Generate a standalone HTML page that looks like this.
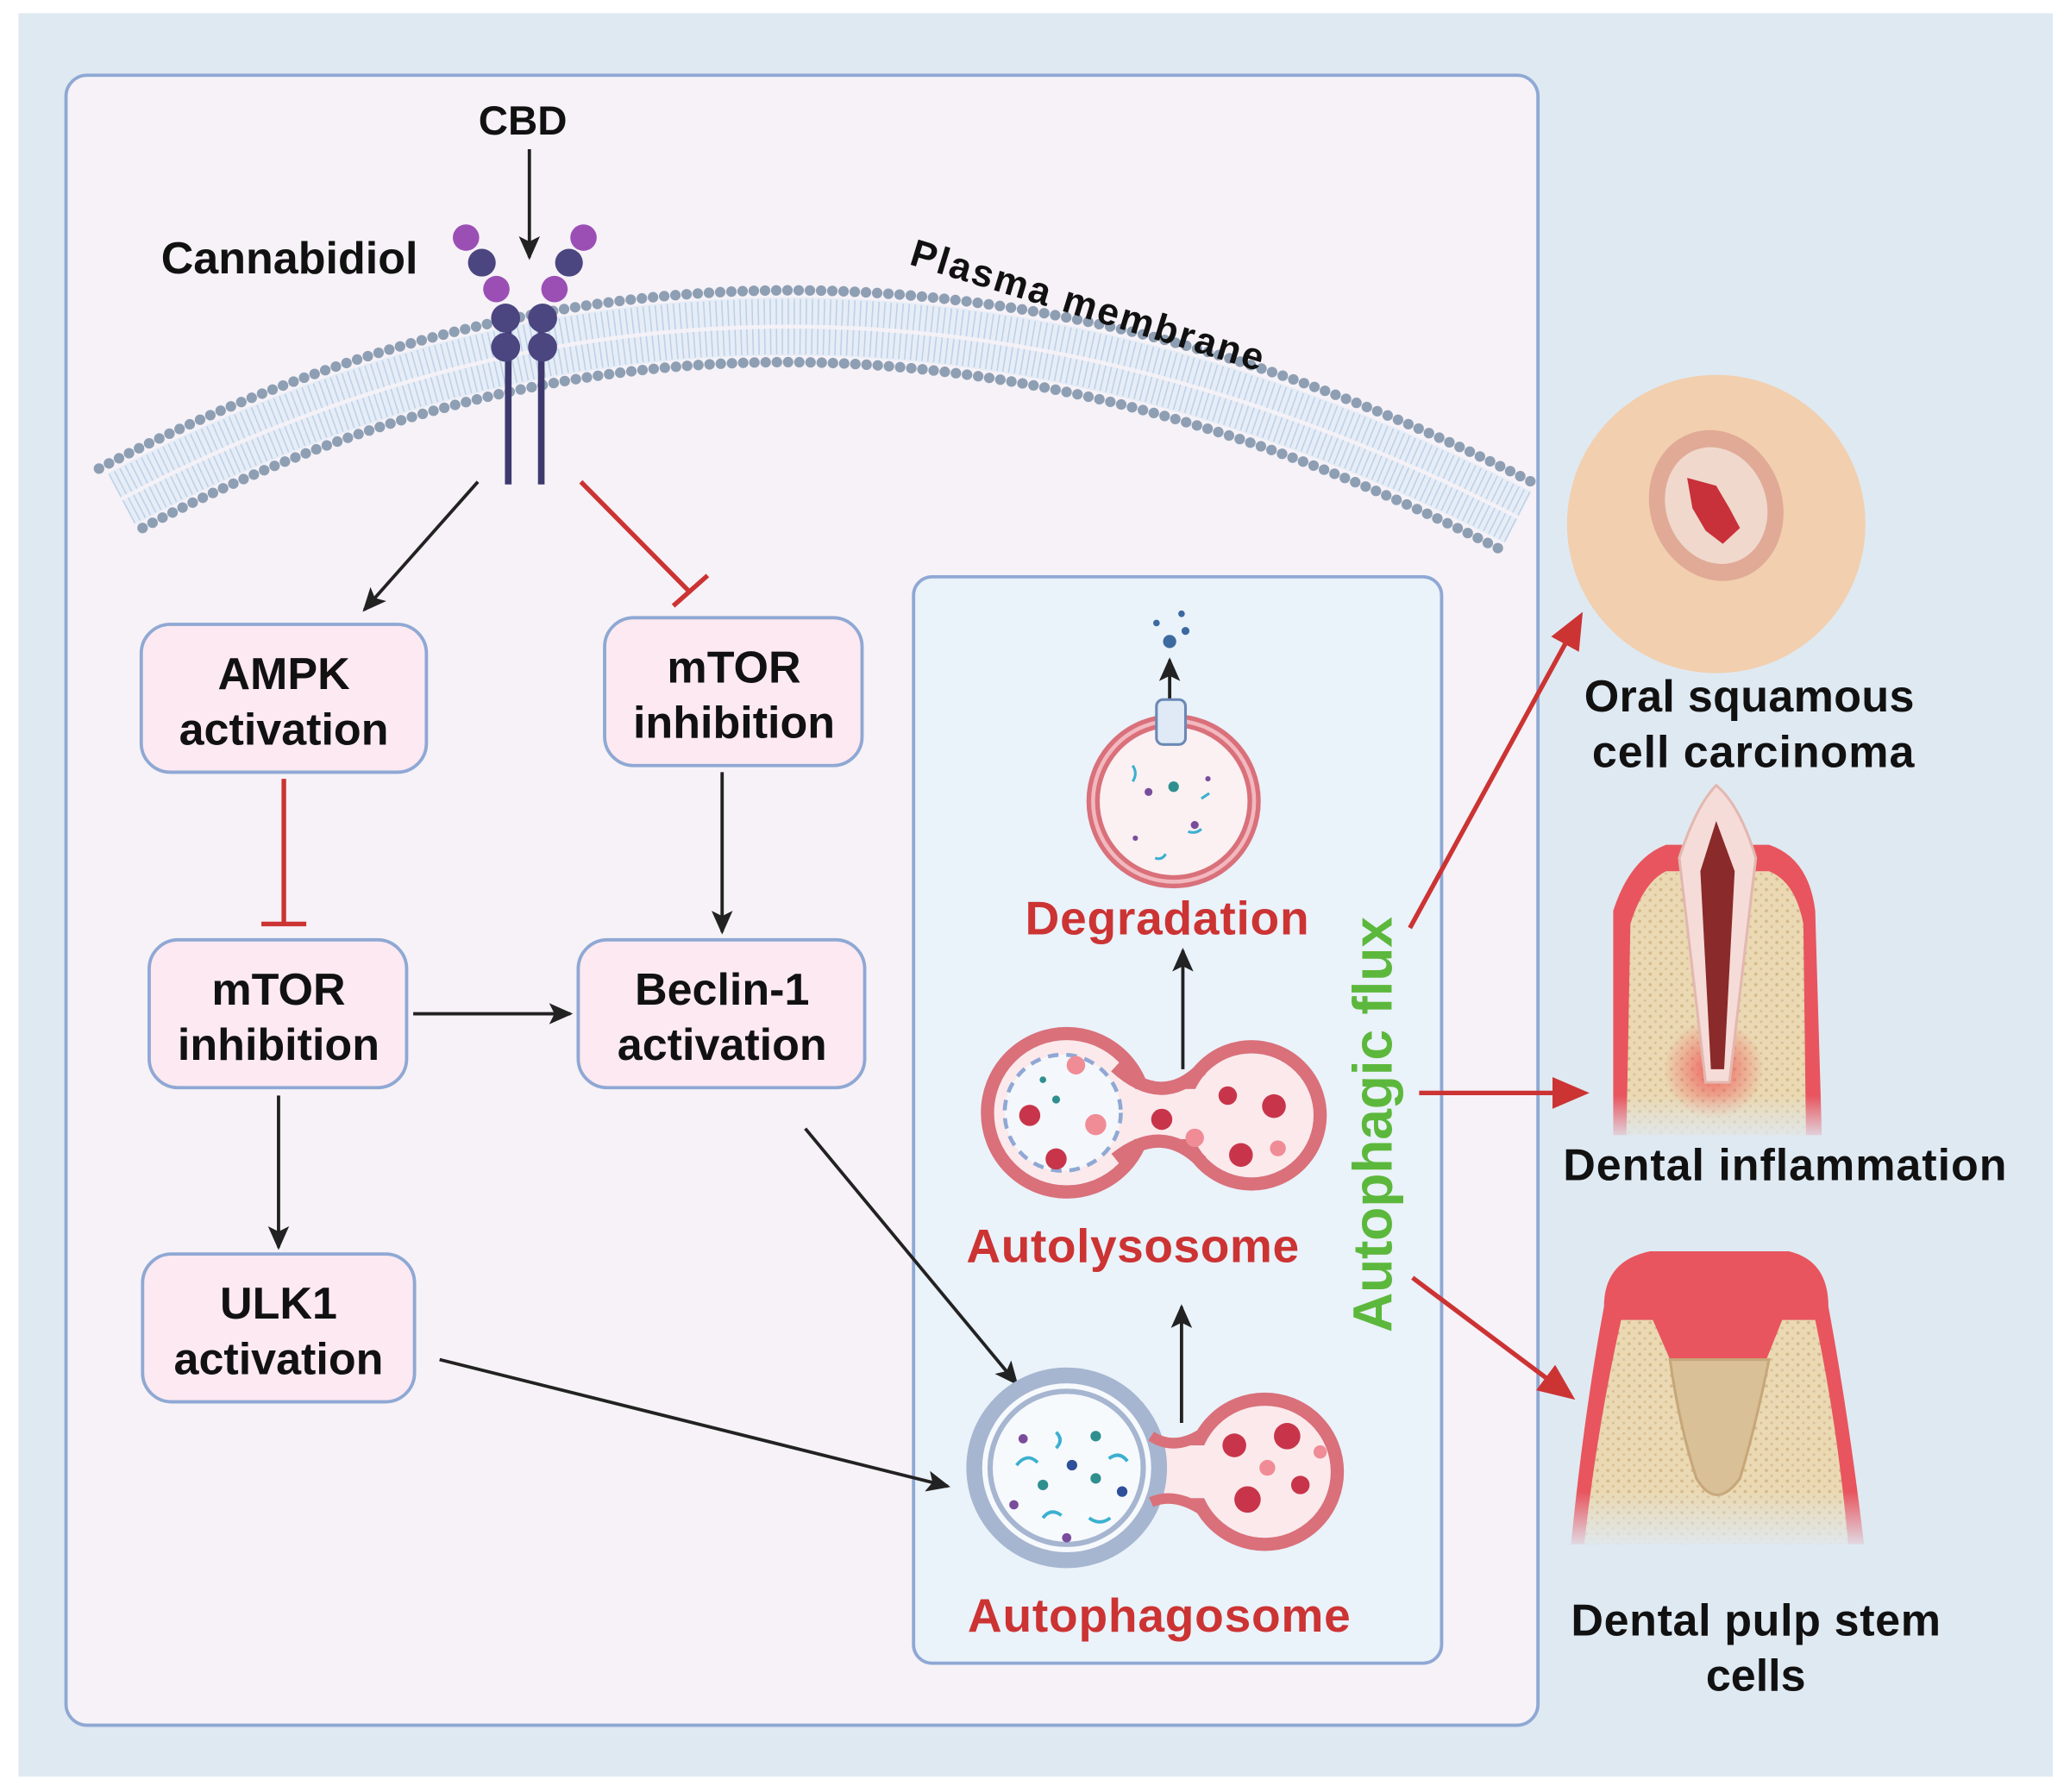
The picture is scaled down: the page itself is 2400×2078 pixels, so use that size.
<!DOCTYPE html>
<html><head><meta charset="utf-8"><style>
html,body{margin:0;padding:0;background:#fff;}
svg{display:block;}
text{font-family:"Liberation Sans",Arial,sans-serif;font-weight:bold;}
</style></head><body>
<svg width="2400" height="2078" viewBox="0 0 1568 1357.6" preserveAspectRatio="none" xmlns="http://www.w3.org/2000/svg">
<defs>
<marker id="ar" markerWidth="28" markerHeight="28" refX="24" refY="14" orient="auto" markerUnits="userSpaceOnUse" viewBox="0 0 28 28"><path d="M0,2 L28,14 L0,26 z" fill="#cc3333"/></marker>
<marker id="abk" markerWidth="18" markerHeight="18" refX="16" refY="9" orient="auto" markerUnits="userSpaceOnUse" viewBox="0 0 18 18"><path d="M0,1 L18,9 L0,17 L4,9z" fill="#222"/></marker>
<radialGradient id="inf" cx="0.5" cy="0.5" r="0.5"><stop offset="0" stop-color="#f05555" stop-opacity="0.9"/><stop offset="1" stop-color="#f05555" stop-opacity="0"/></radialGradient>
<linearGradient id="fade" x1="0" y1="0" x2="0" y2="1"><stop offset="0" stop-color="#dfe9f2" stop-opacity="0"/><stop offset="1" stop-color="#dfe9f2" stop-opacity="1"/></linearGradient>
<pattern id="bone" width="8" height="8" patternUnits="userSpaceOnUse"><rect width="8" height="8" fill="#ead9b3"/><circle cx="2" cy="2" r="1.2" fill="#d4b98a"/><circle cx="6" cy="6" r="1" fill="#d9c097"/></pattern>
</defs>
<rect x="0" y="0" width="1568" height="1358" fill="#fff"/>
<rect x="14" y="10" width="1541" height="1336" fill="#dfe9f2"/>
<rect x="50" y="57" width="1115" height="1250" rx="16" fill="#f6f2f7" stroke="#8fa8d4" stroke-width="2.5"/>
<rect x="692" y="437" width="400" height="823" rx="14" fill="#eaf2fa" stroke="#8fa8d4" stroke-width="2.5"/>

<!-- membrane -->
<path d="M92,378 Q600,110 1150,392" fill="none" stroke="#e6edf6" stroke-width="44"/>
<path d="M92,378 Q600,110 1150,392" fill="none" stroke="#a9c3e2" stroke-width="42" stroke-dasharray="1 3.5" opacity="0.7"/>
<path d="M92,378 Q600,110 1150,392" fill="none" stroke="#f6f2f7" stroke-width="3" opacity="0.9"/>
<path d="M75,355 Q600,80 1160,365" fill="none" stroke="#8e9fb4" stroke-width="8" stroke-linecap="round" stroke-dasharray="0 8.5"/>
<path d="M108,400 Q600,140 1140,418" fill="none" stroke="#8e9fb4" stroke-width="8" stroke-linecap="round" stroke-dasharray="0 8.5"/>

<!-- receptor -->
<line x1="385" y1="250" x2="385" y2="367" stroke="#3e3a6e" stroke-width="5"/>
<line x1="410" y1="250" x2="410" y2="367" stroke="#3e3a6e" stroke-width="5"/>
<circle cx="383" cy="263" r="11" fill="#4b4580"/><circle cx="411" cy="263" r="11" fill="#4b4580"/>
<circle cx="383" cy="241" r="11" fill="#4b4580"/><circle cx="411" cy="241" r="11" fill="#4b4580"/>
<circle cx="376" cy="219" r="10" fill="#9b4fb5"/><circle cx="420" cy="219" r="10" fill="#9b4fb5"/>
<circle cx="365" cy="199" r="10.5" fill="#4b4580"/><circle cx="431" cy="199" r="10.5" fill="#4b4580"/>
<circle cx="353" cy="180" r="10" fill="#9b4fb5"/><circle cx="442" cy="180" r="10" fill="#9b4fb5"/>

<text x="396" y="102" font-size="31" text-anchor="middle" fill="#111">CBD</text>
<line x1="401" y1="113" x2="401" y2="195" stroke="#222" stroke-width="2.5" marker-end="url(#abk)"/>
<text x="122" y="207" font-size="34" fill="#111">Cannabidiol</text>
<text x="0" y="0" font-size="29" fill="#111" textLength="278" transform="translate(688,200) rotate(17)">Plasma membrane</text>

<!-- boxes -->
<g fill="#fce9f1" stroke="#8fa8d4" stroke-width="2.5">
<rect x="107" y="473" width="216" height="112" rx="22"/>
<rect x="458" y="468" width="195" height="112" rx="22"/>
<rect x="113" y="712" width="195" height="112" rx="22"/>
<rect x="438" y="712" width="217" height="112" rx="22"/>
<rect x="108" y="950" width="206" height="112" rx="22"/>
</g>
<g font-size="34" text-anchor="middle" fill="#111">
<text x="215" y="522">AMPK</text><text x="215" y="564">activation</text>
<text x="556" y="517">mTOR</text><text x="556" y="559">inhibition</text>
<text x="211" y="761">mTOR</text><text x="211" y="803">inhibition</text>
<text x="547" y="761">Beclin-1</text><text x="547" y="803">activation</text>
<text x="211" y="999">ULK1</text><text x="211" y="1041">activation</text>
</g>

<!-- connectors -->
<g stroke="#222" stroke-width="2.5" fill="none">
<line x1="362" y1="365" x2="276" y2="462" marker-end="url(#abk)"/>
<line x1="547" y1="585" x2="547" y2="706" marker-end="url(#abk)"/>
<line x1="313" y1="768" x2="432" y2="768" marker-end="url(#abk)"/>
<line x1="211" y1="830" x2="211" y2="945" marker-end="url(#abk)"/>
<line x1="610" y1="855" x2="770" y2="1048" marker-end="url(#abk)"/>
<line x1="333" y1="1030" x2="718" y2="1126" marker-end="url(#abk)"/>
<line x1="895" y1="1078" x2="895" y2="990" marker-end="url(#abk)"/>
<line x1="896" y1="810" x2="896" y2="720" marker-end="url(#abk)"/>
<line x1="886" y1="568" x2="886" y2="500" marker-end="url(#abk)"/>
</g>
<g stroke="#cc3333" stroke-width="3.5" fill="none">
<line x1="440" y1="365" x2="522" y2="448"/>
<line x1="510" y1="459" x2="536" y2="436"/>
<line x1="215" y1="590" x2="215" y2="700"/>
<line x1="198" y1="700" x2="232" y2="700"/>
<line x1="1068" y1="703" x2="1197" y2="467" marker-end="url(#ar)"/>
<line x1="1075" y1="828" x2="1200" y2="828" marker-end="url(#ar)"/>
<line x1="1070" y1="968" x2="1190" y2="1058" marker-end="url(#ar)"/>
</g>

<!-- degradation lysosome -->
<circle cx="889" cy="607" r="61" fill="#fbf0f2" stroke="#d9707a" stroke-width="10"/>
<circle cx="889" cy="607" r="61" fill="none" stroke="#f2b8bf" stroke-width="3"/>
<rect x="876" y="530" width="22" height="34" rx="5" fill="#dfeaf6" stroke="#6b88b5" stroke-width="2"/>
<g fill="#7a4d9c"><circle cx="870" cy="600" r="3"/><circle cx="905" cy="625" r="3"/><circle cx="860" cy="635" r="2"/><circle cx="915" cy="590" r="2"/></g>
<circle cx="889" cy="596" r="4" fill="#2f8f8f"/>
<g stroke="#3bb0d0" stroke-width="2" fill="none"><path d="M858,580 q4,6 0,12"/><path d="M900,630 q6,2 10,-2"/><path d="M875,650 q5,2 8,-3"/><path d="M910,605 l6,-4"/></g>
<g fill="#3c6aa0"><circle cx="886" cy="486" r="5"/><circle cx="876" cy="472" r="2.5"/><circle cx="898" cy="478" r="3"/><circle cx="895" cy="465" r="2.5"/></g>

<!-- autolysosome -->
<g fill="#fbe9ec" stroke="#d9707a" stroke-width="10">
<circle cx="808" cy="843" r="60"/><circle cx="948" cy="845" r="52"/>
</g>
<rect x="840" y="825" width="80" height="38" fill="#fbe9ec"/>
<path d="M845,808 Q880,840 910,810 M845,878 Q880,850 910,880" stroke="#d9707a" stroke-width="10" fill="none"/>
<rect x="860" y="832" width="50" height="26" fill="#fbe9ec"/>
<circle cx="805" cy="843" r="44" fill="#f4f7fb" stroke="#8fa8d4" stroke-width="3" stroke-dasharray="8 6"/>
<g fill="#c8354a"><circle cx="780" cy="845" r="8"/><circle cx="800" cy="878" r="8"/><circle cx="880" cy="848" r="8"/><circle cx="965" cy="838" r="9"/><circle cx="940" cy="875" r="9"/><circle cx="930" cy="830" r="7"/></g>
<g fill="#f08c96"><circle cx="830" cy="852" r="8"/><circle cx="815" cy="807" r="7"/><circle cx="905" cy="862" r="7"/><circle cx="968" cy="870" r="6"/></g>
<g fill="#2f8f8f"><circle cx="800" cy="833" r="3"/><circle cx="790" cy="818" r="2.5"/></g>

<!-- autophagosome -->
<circle cx="958" cy="1115" r="55" fill="#fbe9ec" stroke="#d9707a" stroke-width="10"/>
<rect x="860" y="1095" width="60" height="40" fill="#fbe9ec"/>
<circle cx="808" cy="1112" r="70" fill="#f7fafd" stroke="#a6b5d0" stroke-width="12"/>
<circle cx="808" cy="1112" r="58" fill="#f7fafd" stroke="#a6b5d0" stroke-width="4"/>
<path d="M872,1088 Q890,1100 912,1085 M872,1138 Q890,1130 912,1145" stroke="#d9707a" stroke-width="8" fill="none"/>
<g fill="#c8354a"><circle cx="935" cy="1095" r="9"/><circle cx="975" cy="1088" r="10"/><circle cx="945" cy="1136" r="10"/><circle cx="985" cy="1125" r="7"/></g>
<g fill="#f08c96"><circle cx="960" cy="1112" r="6"/><circle cx="1000" cy="1100" r="5"/></g>
<g fill="#2f8f8f"><circle cx="830" cy="1088" r="4"/><circle cx="790" cy="1125" r="4"/><circle cx="830" cy="1120" r="4"/></g>
<g fill="#2f4f9a"><circle cx="812" cy="1110" r="4"/><circle cx="850" cy="1130" r="4"/></g>
<g fill="#7a4d9c"><circle cx="775" cy="1090" r="3.5"/><circle cx="768" cy="1140" r="3.5"/><circle cx="808" cy="1165" r="3.5"/></g>
<g stroke="#3bb0d0" stroke-width="2.5" fill="none"><path d="M770,1110 q8,-10 16,-2"/><path d="M800,1085 q6,6 0,12"/><path d="M840,1105 q8,-6 14,2"/><path d="M790,1150 q6,-8 14,-2"/><path d="M825,1150 q8,6 16,0"/></g>

<g fill="#cc3333" text-anchor="middle" font-size="36">
<text x="884" y="708" textLength="215">Degradation</text>
<text x="858" y="956" textLength="252">Autolysosome</text>
<text x="878" y="1236" textLength="290">Autophagosome</text>
</g>
<text x="0" y="0" font-size="42" fill="#5cb83c" text-anchor="middle" textLength="315" transform="translate(1054,852) rotate(-90)">Autophagic flux</text>

<!-- right side: OSCC -->
<circle cx="1300" cy="397" r="113" fill="#f2cfae"/>
<ellipse cx="1300" cy="383" rx="50" ry="58" transform="rotate(-20 1300 383)" fill="#dba090" opacity="0.8"/>
<ellipse cx="1300" cy="383" rx="38" ry="45" transform="rotate(-20 1300 383)" fill="#f0d8cc"/>
<path d="M1278,362 L1300,368 L1310,385 L1318,400 L1305,412 L1292,402 L1282,385z" fill="#c8303a"/>
<g font-size="34" text-anchor="middle" fill="#111">
<text x="1325" y="539" textLength="250">Oral squamous</text>
<text x="1328" y="581" textLength="244">cell carcinoma</text>
</g>

<!-- tooth inflammation -->
<path d="M1222,860 L1222,690 Q1235,650 1262,640 L1340,640 Q1370,650 1375,690 L1380,860z" fill="#e8555e"/>
<path d="M1232,860 L1235,700 Q1245,668 1262,660 L1340,660 Q1360,668 1366,700 L1368,860z" fill="url(#bone)"/>
<circle cx="1298" cy="810" r="38" fill="url(#inf)"/>
<path d="M1300,595 Q1285,610 1272,650 L1292,820 L1310,820 L1330,650 Q1318,610 1300,595z" fill="#f6dcd8" stroke="#e2b8b0" stroke-width="2"/>
<path d="M1300,622 L1288,660 L1296,810 L1306,810 L1314,660z" fill="#8a2a2a"/>
<rect x="1210" y="830" width="180" height="36" fill="url(#fade)"/>
<text x="1352" y="894" font-size="34" text-anchor="middle" fill="#111" textLength="336">Dental inflammation</text>

<!-- pulp tooth -->
<path d="M1190,1170 Q1200,1070 1215,990 Q1215,955 1250,948 L1355,948 Q1385,955 1385,990 Q1400,1070 1412,1170z" fill="#e8555e"/>
<path d="M1200,1170 Q1210,1080 1228,1000 L1375,1000 Q1392,1080 1400,1170z" fill="url(#bone)"/>
<path d="M1240,955 L1360,955 Q1365,985 1350,1000 L1338,1030 L1265,1030 L1252,1000 Q1238,985 1240,955z" fill="#e8555e"/>
<path d="M1265,1030 L1340,1030 Q1330,1080 1318,1120 Q1300,1145 1285,1120 Q1272,1080 1265,1030z" fill="#d9c097" stroke="#c7a77a" stroke-width="2"/>
<rect x="1185" y="1130" width="230" height="45" fill="url(#fade)"/>
<g font-size="34" text-anchor="middle" fill="#111">
<text x="1330" y="1239" textLength="280">Dental pulp stem</text>
<text x="1330" y="1281">cells</text>
</g>
</svg>
</body></html>
